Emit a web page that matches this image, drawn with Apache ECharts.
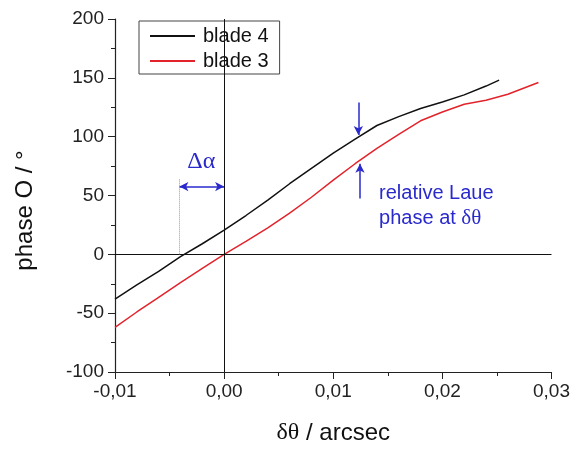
<!DOCTYPE html>
<html><head><meta charset="utf-8">
<script src="https://cdn.jsdelivr.net/npm/echarts@6/dist/echarts.min.js"></script>
<style>html,body{margin:0;padding:0;background:#fff}#c{width:573px;height:450px}</style>
</head><body><div id="c"></div>
<script>
const xTicks = [-0.01, 0.00, 0.01, 0.02, 0.03];
const yTicks = [-100, -50, 0, 50, 100, 150, 200];
const blade4X = [-0.01, -0.008, -0.006, -0.004, -0.002, 0, 0.002, 0.004, 0.006, 0.008, 0.010, 0.012, 0.014, 0.016, 0.018, 0.020, 0.022, 0.024, 0.0252];
const blade4Y = [-38, -26, -14.5, -2, 9, 20.5, 33, 46, 60, 73, 86, 98, 109.5, 117, 124, 129.5, 135.5, 143, 148];
const blade3X = [-0.01, -0.008, -0.006, -0.004, -0.002, 0, 0.002, 0.004, 0.006, 0.008, 0.010, 0.012, 0.014, 0.016, 0.018, 0.020, 0.022, 0.024, 0.026, 0.0288];
const blade3Y = [-62, -49, -36.5, -24, -12, 0, 11, 22.5, 35, 48.5, 63, 77, 90, 102, 113.5, 121, 127.5, 131, 136, 146];
// annotation anchors (data coordinates)
const deltaAlphaX = -0.0041, deltaAlphaArrowY = 57.6;
const laueDownX = 0.0123, laueDownFrom = 129, laueDownTo = 101.5;
const laueUpX = 0.01245, laueUpFrom = 47.5, laueUpTo = 77;

const pair = (xs, ys) => xs.map((x, i) => [x, ys[i]]);
const chart = echarts.init(document.getElementById('c'));
const blue = '#2a2acc';
const fnt = 'Liberation Sans, Arial, sans-serif';
const serif = 'Liberation Serif, serif';
chart.setOption({
  backgroundColor: '#fff',
  animation: false,
  grid: {left: 115, right: 21, top: 19, bottom: 75},
  legend: {
    left: 139, top: 21, orient: 'vertical',
    padding: [5, 11, 3, 11], itemGap: 5, itemWidth: 45, itemHeight: 2,
    icon: 'rect', borderColor: '#444', borderWidth: 1,
    textStyle: {fontSize: 20, color: '#111', fontFamily: fnt, padding: [0, 0, 0, 3]},
    data: ['blade 4', 'blade 3']
  },
  xAxis: {
    type: 'value', min: xTicks[0], max: xTicks[xTicks.length - 1], interval: 0.01,
    name: '{s|δθ} / arcsec', nameLocation: 'middle', nameGap: 49,
    nameTextStyle: {fontSize: 24, color: '#111', fontFamily: fnt,
      rich: {s: {fontSize: 24, fontFamily: serif, color: '#111'}}},
    axisLine: {onZero: false, lineStyle: {color: '#222', width: 1.2}},
    axisTick: {inside: false, length: 7, lineStyle: {color: '#222'}},
    minorTick: {show: true, splitNumber: 2, length: 4, lineStyle: {color: '#222'}},
    splitLine: {show: false},
    axisLabel: {fontSize: 19, color: '#222', fontFamily: fnt, margin: 10,
      formatter: v => v.toFixed(2).replace('.', ',').replace('-0,00', '0,00')}
  },
  yAxis: {
    type: 'value', min: yTicks[0], max: yTicks[yTicks.length - 1], interval: 50,
    name: 'phase O / °', nameLocation: 'middle', nameGap: 78,
    nameTextStyle: {fontSize: 24, color: '#111', fontFamily: fnt, padding: [0, 30, 0, 0]},
    axisLine: {show: true, onZero: false, lineStyle: {color: '#222', width: 1.2}},
    axisTick: {show: true, inside: false, length: 7, lineStyle: {color: '#222'}},
    minorTick: {show: true, splitNumber: 2, length: 4, lineStyle: {color: '#222'}},
    splitLine: {show: false},
    axisLabel: {fontSize: 19, color: '#222', fontFamily: fnt, margin: 11}
  },
  series: [
    {name: 'blade 4', type: 'line', data: pair(blade4X, blade4Y), showSymbol: false, symbol: 'none',
     color: '#111', lineStyle: {width: 1.5, color: '#111'}, z: 3,
     markLine: {silent: true, symbol: 'none', label: {show: false},
       lineStyle: {color: '#111', width: 1, type: 'solid'},
       data: [{xAxis: 0}, {yAxis: 0}]}},
    {name: 'blade 3', type: 'line', data: pair(blade3X, blade3Y), showSymbol: false, symbol: 'none',
     color: '#e2232b', lineStyle: {width: 1.5, color: '#e2232b'}, z: 4},
    {name: 'annot', type: 'line', data: [], z: 5,
     markLine: {silent: true, label: {show: false}, symbolSize: [7, 9],
       lineStyle: {color: blue, width: 1.5, type: 'solid'},
       data: [
         [{coord: [deltaAlphaX, deltaAlphaArrowY], symbol: 'arrow'}, {coord: [0, deltaAlphaArrowY], symbol: 'arrow'}],
         [{coord: [laueDownX, laueDownFrom], symbol: 'none'}, {coord: [laueDownX, laueDownTo], symbol: 'arrow'}],
         [{coord: [laueUpX, laueUpFrom], symbol: 'none'}, {coord: [laueUpX, laueUpTo], symbol: 'arrow'}],
         [{coord: [deltaAlphaX, 0], symbol: 'none', lineStyle: {color: '#999', width: 1, type: 'dotted'}},
          {coord: [deltaAlphaX, 64], symbol: 'none'}]
       ]}}
  ]
});
const p1 = chart.convertToPixel({gridIndex: 0}, [-0.0021, 79]);
const p2 = chart.convertToPixel({gridIndex: 0}, [0.0142, 52]);
const p3 = chart.convertToPixel({gridIndex: 0}, [0.0142, 30.5]);
chart.setOption({graphic: [
  {type: 'text', x: p1[0], y: p1[1], style: {text: 'Δα', fill: blue, fontSize: 24, fontFamily: serif, align: 'center', verticalAlign: 'middle'}},
  {type: 'text', x: p2[0], y: p2[1], style: {text: 'relative Laue', fill: blue, fontSize: 20, fontFamily: fnt, align: 'left', verticalAlign: 'middle'}},
  {type: 'text', x: p3[0], y: p3[1], style: {rich: {s: {fontFamily: serif, fontSize: 21, fill: blue}, n: {fontFamily: fnt, fontSize: 20, fill: blue}}, text: '{n|phase at }{s|δθ}', align: 'left', verticalAlign: 'middle'}}
]});
</script></body></html>
